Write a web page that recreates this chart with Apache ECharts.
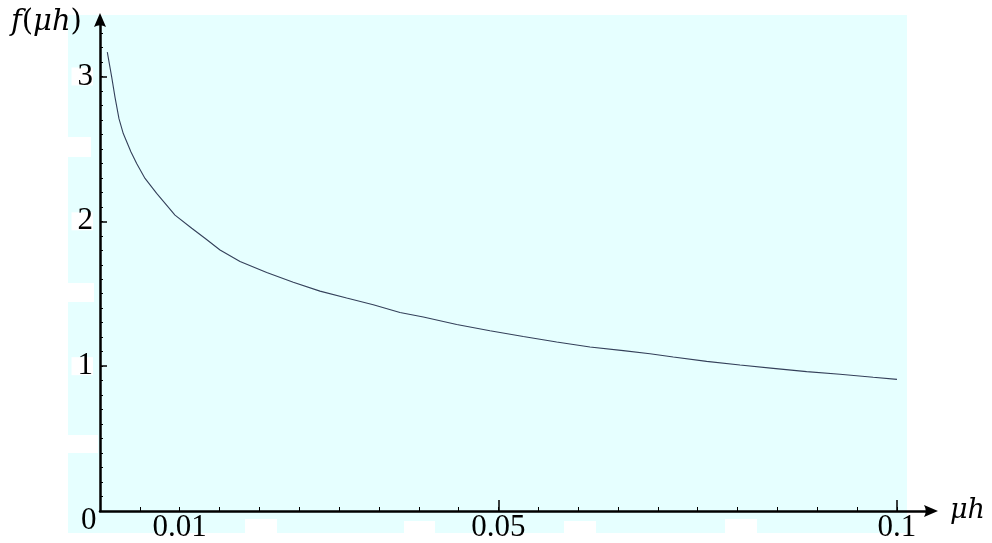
<!DOCTYPE html>
<html>
<head>
<meta charset="utf-8">
<script src="https://cdn.jsdelivr.net/npm/echarts@6/dist/echarts.min.js"></script>
<style>
  html, body { margin: 0; padding: 0; background: #ffffff; }
  #chart { width: 992px; height: 543px; }
</style>
</head>
<body>
<div id="chart"></div>
<script>
// ---- data ----
const muh = [0.000916, 0.00147, 0.00188, 0.00238, 0.00292, 0.00389, 0.00460, 0.00565, 0.00711,
  0.00941, 0.01151, 0.01317, 0.01506, 0.01757, 0.02092, 0.02425, 0.02760, 0.03095, 0.03429,
  0.03764, 0.04057, 0.04476, 0.04893, 0.05311, 0.05730, 0.06148, 0.06566, 0.06901, 0.07193,
  0.07612, 0.08030, 0.08448, 0.08867, 0.09285, 0.09702, 0.1];
const fValues = [3.168, 2.996, 2.858, 2.709, 2.606, 2.479, 2.399, 2.296, 2.193,
  2.043, 1.952, 1.883, 1.802, 1.722, 1.646, 1.580, 1.518, 1.470, 1.424,
  1.371, 1.339, 1.288, 1.245, 1.205, 1.167, 1.132, 1.107, 1.086, 1.063,
  1.033, 1.008, 0.985, 0.962, 0.944, 0.923, 0.909];

const xTickLabels = [0.01, 0.05, 0.1];
const xMajorTicks = [0.05, 0.1];
const xMinorTicks = [0.005, 0.01, 0.015, 0.02, 0.025, 0.03, 0.035, 0.04, 0.045, 0.05,
  0.055, 0.06, 0.065, 0.07, 0.075, 0.08, 0.085, 0.09, 0.095, 0.1];
const yTickLabels = [1, 2, 3];
const yMajorTicks = [1, 2, 3];
const yMinorTicks = [0.1, 0.2, 0.3, 0.4, 0.5, 0.6, 0.7, 0.8, 0.9, 1, 1.1, 1.2, 1.3, 1.4, 1.5,
  1.6, 1.7, 1.8, 1.9, 2, 2.1, 2.2, 2.3, 2.4, 2.5, 2.6, 2.7, 2.8, 2.9, 3, 3.1, 3.2, 3.3];

const xMax = 0.10427;
const yMax = 3.39;

const points = muh.map((x, i) => [x, fValues[i]]);

const chart = echarts.init(document.getElementById('chart'), null, { renderer: 'canvas' });
const serif = '"Liberation Serif", "DejaVu Serif", serif';
const titleFont = '"DejaVu Serif", "Liberation Serif", serif';
const arrowPath = 'path://M0,0 L6,14 Q0,10.5 -6,14 Z';

const whiteRects = [
  [68, 137, 23, 20], [68, 283, 26, 19], [68, 435, 30, 18],
  [245, 519, 32, 14], [404, 521, 31, 12], [564, 521, 32, 12], [725, 519, 32, 14]
];

chart.setOption({
  animation: false,
  backgroundColor: '#ffffff',
  grid: { left: 100, right: 61, top: 20, bottom: 31, containLabel: false },
  graphic: [
    { type: 'rect', z: -10, silent: true,
      shape: { x: 68, y: 15, width: 839, height: 518 },
      style: { fill: '#e6ffff' } },
    ...whiteRects.map(r => ({ type: 'rect', z: -9, silent: true,
      shape: { x: r[0], y: r[1], width: r[2], height: r[3] }, style: { fill: '#ffffff' } })),
    { type: 'text', left: 11, top: 8, z: 10,
      style: {
        text: '{i|f}{r|(}{i|μh}{r|)}',
        rich: {
          i: { fontFamily: titleFont, fontStyle: 'italic', fontSize: 29, fill: '#000' },
          r: { fontFamily: titleFont, fontSize: 29, fill: '#000' }
        }
      } },
    { type: 'text', left: 81, top: 505, z: 10,
      style: { text: '0', fontFamily: serif, fontSize: 31, fill: '#000' } }
  ],
  xAxis: [
    {
      type: 'value', min: 0, max: xMax, position: 'bottom',
      name: 'μh', nameLocation: 'end', nameGap: 19,
      nameTextStyle: { fontFamily: titleFont, fontStyle: 'italic', fontSize: 27, color: '#000', verticalAlign: 'middle', padding: [0, 0, 4, 0] },
      axisLine: { show: true, lineStyle: { color: '#000', width: 2.5 },
        symbol: ['none', arrowPath], symbolSize: [12, 14] },
      axisTick: { show: true, inside: true, length: 4, customValues: xMinorTicks,
        lineStyle: { color: '#000', width: 1 } },
      axisLabel: { show: true, customValues: xTickLabels, margin: 1,
        fontFamily: serif, fontSize: 31, color: '#000',
        formatter: v => String(v) },
      splitLine: { show: false }
    },
    {
      type: 'value', min: 0, max: xMax, position: 'bottom',
      axisLine: { show: false },
      axisTick: { show: true, inside: true, length: 11, customValues: xMajorTicks,
        lineStyle: { color: '#000', width: 1.5 } },
      axisLabel: { show: false },
      splitLine: { show: false }
    }
  ],
  yAxis: [
    {
      type: 'value', min: 0, max: yMax, position: 'left',
      axisLine: { show: true, lineStyle: { color: '#000', width: 2.5 },
        symbol: ['none', arrowPath], symbolSize: [12, 14] },
      axisTick: { show: true, inside: true, length: 3, customValues: yMinorTicks,
        lineStyle: { color: '#000', width: 1 } },
      axisLabel: { show: true, customValues: yTickLabels, margin: 7,
        fontFamily: serif, fontSize: 31, color: '#000',
        backgroundColor: '#ffffff', lineHeight: 18, padding: [0, 0, 0, 6],
        formatter: v => String(v) },
      splitLine: { show: false }
    },
    {
      type: 'value', min: 0, max: yMax, position: 'left',
      axisLine: { show: false },
      axisTick: { show: true, inside: true, length: 7, customValues: yMajorTicks,
        lineStyle: { color: '#000', width: 1.5 } },
      axisLabel: { show: false },
      splitLine: { show: false }
    }
  ],
  series: [
    {
      type: 'line', xAxisIndex: 0, yAxisIndex: 0,
      data: points, showSymbol: false, smooth: false,
      lineStyle: { color: '#34405a', width: 1.1 },
      z: 5
    }
  ]
});
</script>
</body>
</html>
